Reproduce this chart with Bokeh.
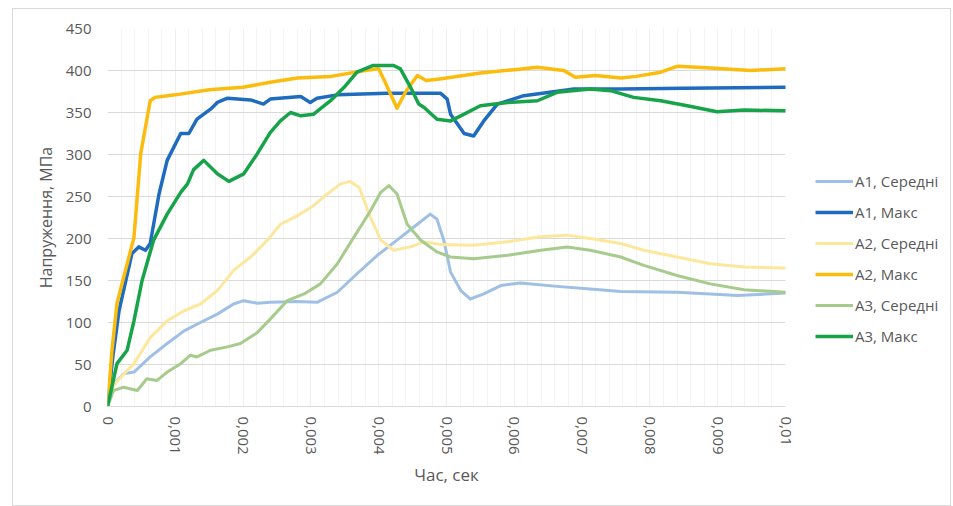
from bokeh.plotting import figure
from bokeh.layouts import row
from bokeh.models import Legend, LegendItem, FixedTicker, CustomJSTickFormatter, Range1d
from bokeh.embed import file_html
from bokeh.resources import INLINE

# ---------------- data ----------------
series_names = ["A1, Середні", "A1, Макс", "A2, Середні", "A2, Макс", "A3, Середні", "A3, Макс"]

a1_mean_t = [0, 0.00009, 0.00024, 0.00039, 0.00063, 0.00088, 0.00113, 0.00137, 0.00162, 0.00186,
             0.00201, 0.00221, 0.0024, 0.0028, 0.00309, 0.00339, 0.00368, 0.00398, 0.00427, 0.00457,
             0.00476, 0.00486, 0.00496, 0.00506, 0.00521, 0.00535, 0.00555, 0.0058, 0.00609, 0.00663,
             0.00712, 0.00757, 0.0084, 0.00889, 0.00929, 0.0100]
a1_mean_v = [0, 27, 39, 41, 59, 75, 90, 100, 110, 122,
             126, 123, 124, 125, 124, 136, 158, 180, 198, 217,
             229, 223, 198, 160, 138, 128, 134, 144, 147, 143,
             140, 137, 136, 134, 132, 135]

a1_max_t = [0, 0.00008, 0.00017, 0.00036, 0.00046, 0.00056, 0.00063, 0.00076, 0.00088, 0.00108,
            0.0012, 0.00132, 0.00152, 0.00162, 0.00177, 0.00211, 0.0023, 0.0024, 0.00285, 0.00299,
            0.00309, 0.00339, 0.00413, 0.00491, 0.00501, 0.00506, 0.00526, 0.0054, 0.00555, 0.00575,
            0.00614, 0.00688, 0.00757, 0.0085, 0.0100]
a1_max_v = [0, 60, 114, 182, 190, 186, 194, 253, 293, 325,
            325, 342, 354, 362, 367, 365, 360, 366, 369, 362,
            367, 371, 373, 373, 366, 348, 325, 322, 340, 360,
            370, 378, 378, 379, 380]

a2_mean_t = [0, 0.00005, 0.00014, 0.00039, 0.00063, 0.00088, 0.00113, 0.00137, 0.00162, 0.00186,
             0.00211, 0.00236, 0.00255, 0.0028, 0.00304, 0.00324, 0.00344, 0.00358, 0.00371, 0.00388,
             0.00403, 0.00422, 0.00447, 0.00467, 0.00491, 0.0054, 0.0059, 0.00639, 0.00678, 0.00712,
             0.00757, 0.00791, 0.0084, 0.00889, 0.00939, 0.0100]
a2_mean_v = [0, 20, 30, 51, 82, 102, 114, 122, 138, 162,
             178, 198, 217, 227, 239, 253, 265, 268, 261, 225,
             198, 186, 190, 196, 193, 192, 196, 202, 204, 200,
             194, 186, 178, 170, 166, 165]

a2_max_t = [0, 0.00007, 0.00014, 0.00039, 0.00049, 0.00063, 0.00070, 0.0010, 0.0015, 0.0020,
            0.0024, 0.0028, 0.0033, 0.0038, 0.0040, 0.0041, 0.00427, 0.0044, 0.00457, 0.0047,
            0.0049, 0.0055, 0.0060, 0.00634, 0.00673, 0.0069, 0.0072, 0.00757, 0.0078, 0.00816,
            0.0084, 0.0089, 0.00948, 0.0100]
a2_max_v = [0, 70, 123, 201, 301, 364, 368, 371, 377, 380,
            386, 391, 393, 400, 402, 385, 355, 375, 394, 388,
            390, 397, 401, 404, 400, 392, 394, 391, 393, 398,
            405, 403, 400, 402]

a3_mean_t = [0, 0.00009, 0.00024, 0.00044, 0.00058, 0.00073, 0.00088, 0.00108, 0.00122, 0.00132,
             0.00152, 0.00177, 0.00196, 0.00221, 0.0024, 0.00265, 0.0029, 0.00314, 0.00339, 0.00363,
             0.00388, 0.00403, 0.00415, 0.00427, 0.00442, 0.00462, 0.00486, 0.00506, 0.0054, 0.0059,
             0.00639, 0.00678, 0.00712, 0.00757, 0.00791, 0.0084, 0.00889, 0.00939, 0.0100]
a3_mean_v = [0, 19, 23, 19, 33, 31, 41, 51, 61, 59,
             67, 71, 75, 88, 104, 126, 134, 146, 170, 201,
             233, 255, 263, 253, 217, 198, 184, 178, 176, 180,
             186, 190, 186, 178, 168, 156, 146, 139, 136]

a3_max_t = [0, 0.00014, 0.00029, 0.00039, 0.00051, 0.00068, 0.00088, 0.00108, 0.00118, 0.00127, 0.00142,
            0.00162, 0.00179, 0.00201, 0.00221, 0.0024, 0.00255, 0.0027, 0.00285, 0.00304, 0.00329,
            0.00349, 0.00368, 0.00392, 0.00422, 0.00432, 0.00447, 0.00459, 0.00467, 0.00486, 0.00506, 0.00521,
            0.0055, 0.0059, 0.00634, 0.00663, 0.00712, 0.00742, 0.00776, 0.00816, 0.00855, 0.00899,
            0.00939, 0.0100]
a3_max_v = [0, 51, 67, 102, 150, 198, 229, 255, 265, 282, 293,
            277, 268, 277, 301, 326, 340, 350, 346, 348, 364,
            380, 398, 406, 406, 402, 380, 360, 356, 342, 340, 346,
            358, 362, 364, 374, 378, 376, 368, 364, 358, 351,
            353, 352]

x_ticks = [0, 0.001, 0.002, 0.003, 0.004, 0.005, 0.006, 0.007, 0.008, 0.009, 0.01]
x_tick_labels = ["0", "0,001", "0,002", "0,003", "0,004", "0,005", "0,006", "0,007", "0,008", "0,009", "0,01"]
y_ticks = [0, 50, 100, 150, 200, 250, 300, 350, 400, 450]

x_title = "Час, сек"
y_title = "Напруження, МПа"

# ---------------- styling ----------------
FONT = "Open Sans"
TXT = "#595959"
colors = ["#9fc0e4", "#1f6cbf", "#fde79c", "#fbbc0e", "#a6cb8c", "#17a34a"]
widths = [3, 3.5, 3, 3.5, 3, 3.5]

data = [(a1_mean_t, a1_mean_v), (a1_max_t, a1_max_v), (a2_mean_t, a2_mean_v),
        (a2_max_t, a2_max_v), (a3_mean_t, a3_mean_v), (a3_max_t, a3_max_v)]

# main chart
p = figure(width=787, height=496, output_backend="svg", toolbar_location=None,
           x_range=Range1d(0, 0.01), y_range=Range1d(0, 450),
           min_border_left=94, min_border_right=15, min_border_top=19, min_border_bottom=99)
p.outline_line_color = None
p.background_fill_color = "white"
p.border_fill_color = "white"

for (t, v), c, w in zip(data, colors, widths):
    p.line(t, v, line_color=c, line_width=w, line_join="round", line_cap="round")

p.ygrid.ticker = FixedTicker(ticks=y_ticks)
p.ygrid.grid_line_color = "#d9d9d9"
p.ygrid.grid_line_width = 1
minor = [i * 0.0002 for i in range(1, 50)]
p.xgrid.ticker = FixedTicker(ticks=x_ticks, minor_ticks=minor)
p.xgrid.grid_line_color = "#efefef"
p.xgrid.minor_grid_line_color = "#f4f4f4"

p.yaxis.ticker = FixedTicker(ticks=y_ticks)
p.xaxis.ticker = FixedTicker(ticks=x_ticks)
p.xaxis.formatter = CustomJSTickFormatter(args=dict(xt=x_ticks, xl=x_tick_labels), code="""
    for (let i = 0; i < xt.length; i++) { if (Math.abs(xt[i] - tick) < 1e-9) return xl[i]; }
    return '';
""")
p.xaxis.major_label_orientation = "vertical"
for ax in (p.xaxis[0], p.yaxis[0]):
    ax.major_tick_line_color = None
    ax.minor_tick_line_color = None
    ax.major_tick_out = 0
    ax.major_label_text_font = FONT
    ax.major_label_text_font_size = "15px"
    ax.major_label_text_color = TXT
    ax.axis_label_text_font = FONT
    ax.axis_label_text_color = TXT
    ax.axis_label_text_font_style = "normal"
p.xaxis.axis_label_text_font_size = "17px"
p.yaxis.axis_label_text_font_size = "16px"
p.xaxis.axis_line_color = "#d9d9d9"
p.yaxis.axis_line_color = None
p.xaxis.major_label_standoff = 10
p.yaxis.major_label_standoff = 16
p.xaxis.axis_label = x_title
p.yaxis.axis_label = y_title
p.xaxis.axis_label_standoff = 5
p.yaxis.axis_label_standoff = 6

# legend panel (its lines lie outside its own view, so only the legend shows)
lg = figure(width=150, height=496, output_backend="svg", toolbar_location=None,
            x_range=Range1d(1, 2), y_range=Range1d(1, 2),
            x_axis_location=None, y_axis_location=None,
            min_border_left=0, min_border_right=0, min_border_top=0, min_border_bottom=0)
lg.grid.visible = False
lg.outline_line_color = None
lg.border_fill_color = "white"
items = []
for (t, v), c, w, n in zip(data, colors, widths, series_names):
    r = lg.line(t, v, line_color=c, line_width=w)
    items.append(LegendItem(label=n, renderers=[r]))

legend = Legend(items=items, location=(15, 60), padding=0, margin=0, spacing=11,
                glyph_width=38, glyph_height=20, label_height=20, label_standoff=2,
                label_text_font=FONT, label_text_font_size="15px", label_text_color=TXT,
                border_line_color=None, background_fill_alpha=0)
lg.add_layout(legend, "center")

layout = row(p, lg, styles={"border": "1px solid #d9d9d9", "margin-left": "12px",
                            "margin-top": "8px", "background-color": "white"})

open("out.html", "w").write(file_html(layout, INLINE))
